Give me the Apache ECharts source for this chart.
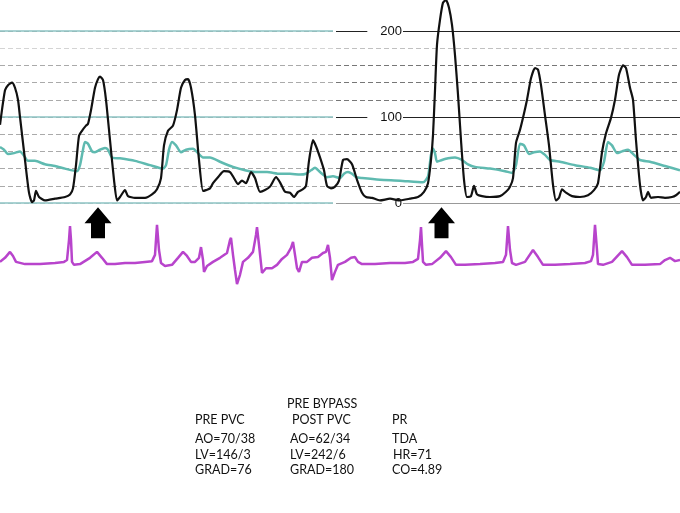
<!DOCTYPE html>
<html><head><meta charset="utf-8">
<script src="https://cdn.jsdelivr.net/npm/echarts@6/dist/echarts.min.js"></script>
<style>html,body{margin:0;padding:0;background:#fff}#c{width:680px;height:513px}</style>
</head><body><div id="c"></div>
<script>
// time in seconds, pressure in mmHg
const lvPressure = [[0,91],[0.05,131],[0.08,137],[0.12,140],[0.15,134],[0.18,120],[0.2,100],[0.25,50],[0.29,12],[0.32,1],[0.34,3],[0.36,14],[0.39,7],[0.45,3],[0.55,5],[0.65,7],[0.7,10],[0.73,17],[0.76,44],[0.79,78],[0.82,84],[0.86,90],[0.88,92],[0.91,108],[0.95,134],[0.98,144],[1.0,147],[1.03,143],[1.06,120],[1.1,73],[1.14,27],[1.17,3],[1.2,7],[1.25,15],[1.28,8],[1.35,6],[1.45,6],[1.52,10],[1.57,16],[1.61,29],[1.64,67],[1.68,84],[1.73,90],[1.77,108],[1.81,134],[1.85,143],[1.88,144],[1.91,134],[1.95,102],[1.99,50],[2.03,14],[2.06,15],[2.1,17],[2.13,23],[2.18,30],[2.24,37],[2.3,36],[2.34,29],[2.38,22],[2.42,26],[2.46,23],[2.51,36],[2.55,29],[2.6,13],[2.65,15],[2.7,19],[2.76,30],[2.8,24],[2.85,13],[2.9,12],[2.94,7],[2.98,13],[3.03,16],[3.06,20],[3.09,49],[3.13,73],[3.16,66],[3.2,53],[3.24,38],[3.27,20],[3.31,17],[3.35,19],[3.39,26],[3.43,50],[3.47,51],[3.52,45],[3.57,27],[3.62,12],[3.66,7],[3.72,6],[3.8,3],[3.9,5],[4.0,3],[4.1,5],[4.18,7],[4.24,13],[4.28,23],[4.31,50],[4.33,79],[4.35,131],[4.37,184],[4.4,213],[4.43,233],[4.46,236],[4.49,227],[4.52,207],[4.55,172],[4.58,126],[4.61,73],[4.64,27],[4.67,7],[4.71,8],[4.74,20],[4.77,10],[4.82,8],[4.9,7],[5.0,8],[5.06,13],[5.1,19],[5.13,29],[5.16,70],[5.2,85],[5.23,99],[5.27,120],[5.31,145],[5.35,157],[5.38,155],[5.41,137],[5.45,102],[5.49,67],[5.53,21],[5.56,3],[5.59,6],[5.62,16],[5.66,12],[5.72,8],[5.8,7],[5.88,9],[5.94,15],[5.98,23],[6.02,59],[6.06,81],[6.11,99],[6.15,120],[6.19,149],[6.23,160],[6.26,157],[6.3,134],[6.33,120],[6.36,73],[6.4,21],[6.43,3],[6.46,7],[6.48,13],[6.51,6],[6.58,7],[6.65,6],[6.72,7],[6.76,9],[6.8,13]];

const aoPressure = [[0,65],[0.04,62],[0.08,57],[0.14,58],[0.2,60],[0.24,55],[0.28,49],[0.35,49],[0.45,45],[0.55,43],[0.65,40],[0.77,37],[0.8,44],[0.83,62],[0.85,71],[0.88,69],[0.92,60],[0.95,59],[1.0,62],[1.05,64],[1.08,62],[1.12,53],[1.2,52],[1.35,49],[1.5,44],[1.63,40],[1.66,44],[1.69,62],[1.72,71],[1.76,67],[1.81,59],[1.86,62],[1.93,63],[1.98,58],[2.03,53],[2.1,53],[2.2,48],[2.33,42],[2.45,38],[2.55,36],[2.67,36],[2.8,34],[2.9,34],[3.0,33],[3.06,34],[3.11,38],[3.15,41],[3.2,36],[3.27,30],[3.33,31],[3.4,29],[3.44,34],[3.48,36],[3.52,34],[3.56,30],[3.62,29],[3.8,27],[4.0,26],[4.23,24],[4.28,31],[4.31,56],[4.33,63],[4.35,58],[4.37,48],[4.42,50],[4.48,52],[4.55,53],[4.62,50],[4.68,45],[4.75,42],[4.9,40],[5.05,37],[5.12,35],[5.16,44],[5.2,69],[5.24,67],[5.29,57],[5.34,59],[5.4,60],[5.45,56],[5.5,50],[5.6,48],[5.75,44],[5.9,41],[6.0,38],[6.04,48],[6.08,71],[6.12,67],[6.17,58],[6.22,60],[6.28,62],[6.34,56],[6.4,50],[6.5,48],[6.65,43],[6.8,38]];

// ECG, arbitrary mV-like units
const ecgTrace = [[0,0.03],[0.05,0.14],[0.1,0.3],[0.13,0.19],[0.16,0.03],[0.25,-0.03],[0.4,-0.03],[0.55,0],[0.64,0.03],[0.67,0.08],[0.69,0.62],[0.7,1.0],[0.71,0.62],[0.72,0.03],[0.74,-0.05],[0.8,-0.03],[0.9,0.14],[0.97,0.3],[1.02,0.14],[1.07,-0.03],[1.15,-0.03],[1.25,0],[1.35,0],[1.45,0.03],[1.52,0.05],[1.55,0.22],[1.57,1.03],[1.59,0.35],[1.61,0],[1.65,-0.08],[1.72,-0.05],[1.78,0.14],[1.83,0.3],[1.87,0.19],[1.91,0.03],[1.95,0.03],[1.99,0.14],[2.01,0.43],[2.03,0.08],[2.04,-0.24],[2.07,-0.08],[2.13,0.03],[2.2,0.14],[2.27,0.27],[2.3,0.62],[2.31,0.68],[2.33,0.22],[2.35,-0.19],[2.37,-0.57],[2.4,-0.32],[2.43,0.03],[2.48,0.14],[2.53,0.3],[2.56,0.76],[2.57,0.97],[2.59,0.49],[2.62,-0.27],[2.66,-0.14],[2.72,-0.14],[2.77,-0.05],[2.82,0.11],[2.87,0.22],[2.91,0.41],[2.93,0.57],[2.95,0.22],[2.97,-0.14],[2.99,-0.24],[3.02,0.03],[3.07,0.03],[3.12,0.14],[3.18,0.16],[3.23,0.27],[3.26,0.3],[3.28,0.49],[3.3,0.14],[3.32,-0.46],[3.35,-0.24],[3.38,-0.05],[3.45,0.03],[3.51,0.14],[3.55,0.16],[3.58,0.03],[3.62,-0.03],[3.75,-0.03],[3.9,0],[4.05,0],[4.13,0.03],[4.18,0.11],[4.2,0.62],[4.21,0.97],[4.22,0.49],[4.23,0.03],[4.26,-0.05],[4.32,-0.03],[4.4,0.14],[4.46,0.32],[4.51,0.16],[4.56,-0.05],[4.65,-0.05],[4.8,-0.03],[4.95,0],[5.03,0.03],[5.06,0.22],[5.08,1.0],[5.1,0.35],[5.12,0],[5.16,-0.05],[5.25,0.03],[5.33,0.35],[5.38,0.16],[5.43,-0.05],[5.55,-0.05],[5.7,-0.03],[5.85,0],[5.91,0.05],[5.93,0.22],[5.95,1.03],[5.97,0.35],[5.98,-0.03],[6.03,-0.05],[6.12,0.03],[6.22,0.32],[6.27,0.16],[6.32,-0.05],[6.45,-0.05],[6.6,-0.03],[6.65,0.08],[6.7,0.14],[6.75,0.05],[6.8,0.08]];

const pvcArrows = [[0.98, 1.09], [4.415, 1.09]];
const pressureTicks = [0, 100, 200];

const headerText = 'PRE BYPASS';
const col1 = ['PRE PVC', 'AO=70/38', 'LV=146/3', 'GRAD=76'];
const col2 = ['POST PVC', 'AO=62/34', 'LV=242/6', 'GRAD=180'];
const col3 = ['PR', 'TDA', 'HR=71', 'CO=4.89'];

const chart = echarts.init(document.getElementById('c'));
const tf = {fontFamily: 'Lato', fontSize: 12.5, fill: '#111'};
const graphics = [{type:'text', left: 287, top: 397, style: Object.assign({text: headerText}, tf)}];
const rowTops = [413, 432, 448, 463];
const colLefts = [[195,195,195,195],[292,290,290,290],[392,392,393,392]];
[col1, col2, col3].forEach((col, c) => {
  col.forEach((t, i) => graphics.push({type:'text', left: colLefts[c][i], top: rowTops[i], style: Object.assign({text: t}, tf)}));
});

const leftDash = ['#ccc','#aaa','#aaa','#aaa','#aaa','#aaa','#aaa','#aaa','#aaa','#d4d4d4','#aaa'];
const rightDash = ['#bbb','#777','#777','#777','#777','#777','#777','#777','#777','#c0c0c0','#777'];

chart.setOption({
  animation: false,
  backgroundColor: '#fff',
  grid: [
    {left: 0, width: 333, top: 31, height: 172},
    {left: 336, width: 344, top: 31, height: 172},
    {left: 0, width: 680, top: 31, height: 172},
    {left: 0, width: 680, top: 226, height: 74}
  ],
  xAxis: [
    {type:'value', gridIndex:0, show:false},
    {type:'value', gridIndex:1, show:false},
    {type:'value', gridIndex:2, min:0, max:6.8, show:false},
    {type:'value', gridIndex:3, min:0, max:6.8, show:false}
  ],
  yAxis: [
    {type:'value', gridIndex:0, position:'left', min:0, max:200, interval:20, axisLine:{show:false}, axisTick:{show:false}, axisLabel:{show:false},
      splitLine:{show:true, lineStyle:{color:leftDash, type:[5,3], width:1}}},
    {type:'value', gridIndex:0, position:'left', min:0, max:200, interval:100, axisLine:{show:false}, axisTick:{show:false}, axisLabel:{show:false},
      splitLine:{show:true, lineStyle:{color:'#8cc3c3', width:1.5}}},
    {type:'value', gridIndex:1, position:'left', min:0, max:200, interval:20, axisLine:{show:false}, axisTick:{show:false}, axisLabel:{show:false},
      splitLine:{show:true, lineStyle:{color:rightDash, type:[5,3], width:1}}},
    {type:'value', gridIndex:1, position:'left', min:0, max:200, interval:100, axisLine:{show:false}, axisTick:{show:false},
      axisLabel:{show:true, inside:true, margin:67, align:'right', color:'#111', fontFamily:'Liberation Sans', fontSize:13,
        backgroundColor:'#fff', padding:[1,1,1,13],
        formatter: v => pressureTicks.indexOf(v) >= 0 ? String(v) : ''},
      splitLine:{show:true, lineStyle:{color:['#999','#222','#222'], width:1.2}}},
    {type:'value', gridIndex:2, min:0, max:200, show:false, splitLine:{show:false}},
    {type:'value', gridIndex:3, min:-1, max:1, show:false, splitLine:{show:false}}
  ],
  series: [
    {type:'line', name:'AO', xAxisIndex:2, yAxisIndex:4, data:aoPressure, showSymbol:false, clip:false, smooth:0.2,
      lineStyle:{color:'#5fbab0', width:2.5}, z:3},
    {type:'line', name:'LV', xAxisIndex:2, yAxisIndex:4, data:lvPressure, showSymbol:false, clip:false, smooth:0.2,
      lineStyle:{color:'#111', width:2.2}, z:4},
    {type:'line', name:'ECG', xAxisIndex:3, yAxisIndex:5, data:ecgTrace, showSymbol:false, clip:false,
      lineStyle:{color:'#b844cc', width:2.5}, z:3},
    {type:'scatter', xAxisIndex:3, yAxisIndex:5, data:pvcArrows, clip:false,
      symbol:'path://M13.5,0 L27,16 L20.5,16 L20.5,31 L6.5,31 L6.5,16 L0,16 Z', symbolSize:[27,31],
      itemStyle:{color:'#000', opacity:1}, z:5}
  ],
  graphic: graphics
});
</script></body></html>
